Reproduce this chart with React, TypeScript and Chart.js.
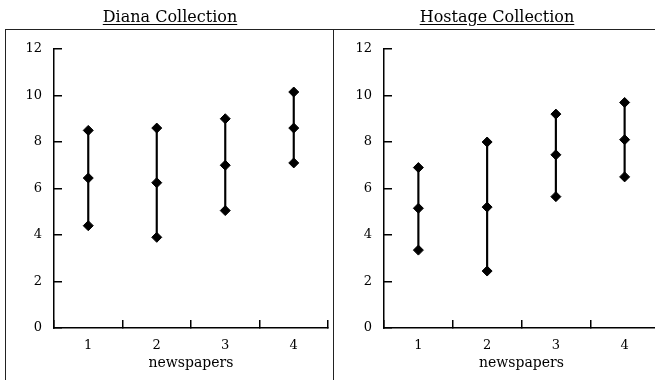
import React, { useEffect, useRef } from 'react';
import { Chart, registerables } from 'chart.js';
Chart.register(...registerables);

const categories = ['1', '2', '3', '4'];
const dianaHigh = [8.5, 8.6, 9.0, 10.15];
const dianaMid = [6.45, 6.25, 7.0, 8.6];
const dianaLow = [4.4, 3.9, 5.05, 7.1];
const hostageHigh = [6.9, 8.0, 9.2, 9.7];
const hostageMid = [5.15, 5.2, 7.45, 8.1];
const hostageLow = [3.35, 2.45, 5.65, 6.5];
const yTicks = [0, 2, 4, 6, 8, 10, 12];
const xTitle = 'newspapers';
const titles = ['Diana Collection', 'Hostage Collection'];

const FONT = "'DejaVu Serif', serif";

type PanelProps = { low: number[]; mid: number[]; high: number[]; yWidth: number; padRight: number; left: number; width: number };

function Panel({ low, mid, high, yWidth, padRight, left, width }: PanelProps) {
  const ref = useRef<HTMLCanvasElement | null>(null);
  useEffect(() => {
    if (!ref.current) return;
    const pointDs = (d: number[]) => ({
      type: 'line' as const,
      data: d,
      showLine: false,
      pointStyle: 'rectRot',
      pointRadius: 5,
      pointBorderWidth: 1,
      pointBackgroundColor: '#000',
      pointBorderColor: '#000',
      order: 1,
    });
    const chart = new Chart(ref.current, {
      type: 'bar',
      data: {
        labels: categories,
        datasets: [
          {
            type: 'bar',
            data: categories.map((_, i) => [low[i], high[i]]) as any,
            backgroundColor: '#000',
            borderWidth: 0,
            barThickness: 1.5,
            order: 2,
          } as any,
          pointDs(low) as any,
          pointDs(mid) as any,
          pointDs(high) as any,
        ],
      },
      options: {
        animation: false,
        responsive: false,
        devicePixelRatio: 1,
        events: [],
        layout: { padding: { top: 49, right: padRight, left: 0, bottom: 0 } },
        plugins: { legend: { display: false }, tooltip: { enabled: false }, title: { display: false } },
        scales: {
          x: {
            type: 'category',
            offset: true,
            grid: { offset: true, drawOnChartArea: false, drawTicks: true, tickLength: -8, color: '#000', lineWidth: 1.5 },
            border: { display: true, color: '#000', width: 1.5 },
            ticks: { color: '#000', font: { family: FONT, size: 13 }, padding: 18, maxRotation: 0 },
            title: { display: true, text: xTitle, color: '#000', font: { family: FONT, size: 14 }, padding: { top: 0, bottom: 8 } },
            afterFit: (s: any) => { s.height = 52; },
          },
          y: {
            type: 'linear',
            min: 0,
            max: 12,
            grid: { drawOnChartArea: false, drawTicks: true, tickLength: -8, color: '#000', lineWidth: 1.5 },
            border: { display: true, color: '#000', width: 1.5 },
            ticks: { color: '#000', font: { family: FONT, size: 13 }, padding: 20, stepSize: 2 },
            afterBuildTicks: (s: any) => { s.ticks = yTicks.map((v) => ({ value: v })); },
            afterFit: (s: any) => { s.width = yWidth; },
          },
        },
      } as any,
    });
    return () => chart.destroy();
  }, []);
  return (
    <canvas ref={ref} width={width} height={380} style={{ position: 'absolute', left, top: 0, width, height: 380 }} />
  );
}

export default function App() {
  const titleStyle = (cx: number): React.CSSProperties => ({
    position: 'absolute',
    left: cx - 150,
    width: 300,
    top: 9,
    textAlign: 'center',
    fontFamily: FONT,
    fontSize: 16,
    lineHeight: '16px',
    color: '#000',
    textDecoration: 'underline',
    textUnderlineOffset: '2px',
  });
  return (
    <div style={{ position: 'fixed', left: 0, top: 0, width: 655, height: 380, background: '#fff', overflow: 'hidden' }}>
      <Panel low={dianaLow} mid={dianaMid} high={dianaHigh} yWidth={54} padRight={2} left={0} width={334} />
      <Panel low={hostageLow} mid={hostageMid} high={hostageHigh} yWidth={53} padRight={4} left={331} width={334} />
      <div style={{ position: 'absolute', left: 5, top: 29, width: 660, height: 1, background: '#222' }} />
      <div style={{ position: 'absolute', left: 5, top: 29, width: 1, height: 360, background: '#222' }} />
      <div style={{ position: 'absolute', left: 333, top: 29, width: 1, height: 360, background: '#222' }} />
      <div style={titleStyle(170)}>{titles[0]}</div>
      <div style={titleStyle(497)}>{titles[1]}</div>
    </div>
  );
}
